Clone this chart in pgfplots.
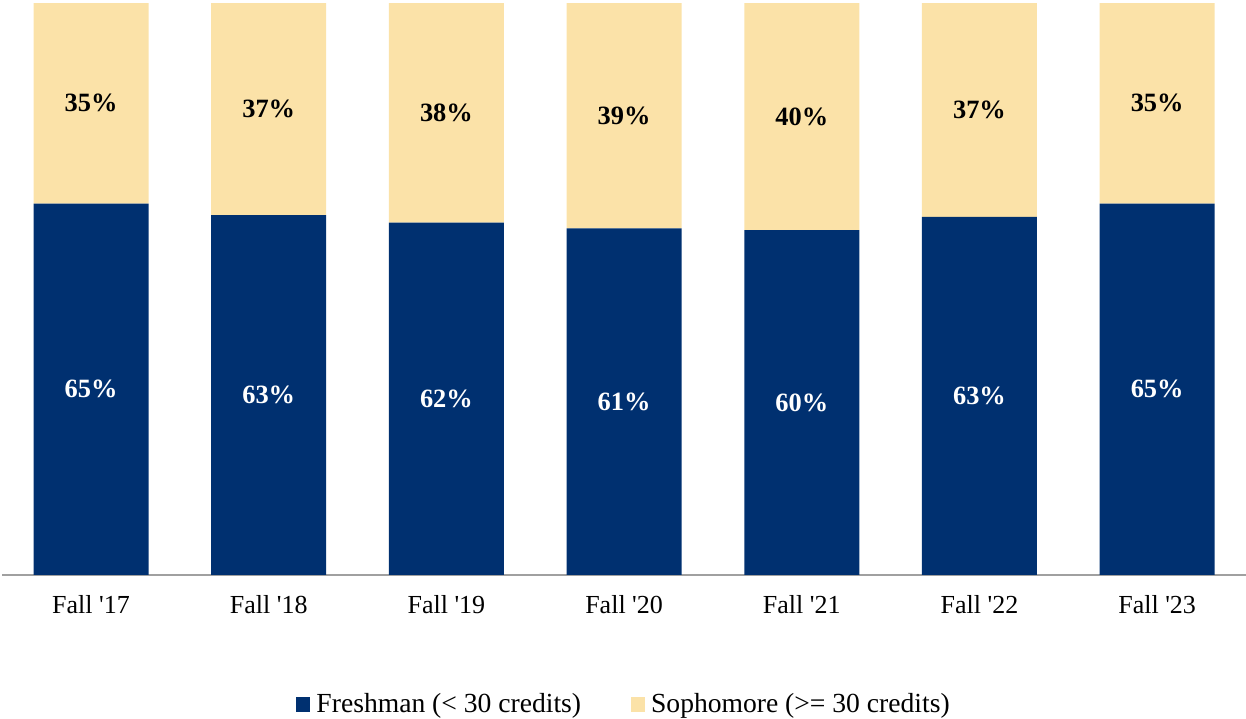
\documentclass[border=0pt]{standalone}
\usepackage{fontspec}
\setmainfont{Liberation Serif}
\usepackage{pgfplots}
\pgfplotsset{compat=1.18}
\usepackage{pgfplotstable}

\definecolor{navy}{HTML}{003070}
\definecolor{beige}{HTML}{FBE2A8}
\definecolor{axisgray}{HTML}{A0A0A0}

\pgfplotstableread{
x F S Flab Slab
0 64.9 35.1 65 35
1 62.9 37.1 63 37
2 61.6 38.4 62 38
3 60.6 39.4 61 39
4 60.3 39.7 60 40
5 62.6 37.4 63 37
6 64.9 35.1 65 35
}\data

\begin{document}
\begin{tikzpicture}
\useasboundingbox (-1.1pt,-72pt) rectangle (622pt,287.5pt);
\begin{axis}[
  at={(0,0)}, anchor=south west,
  scale only axis, width=622pt, height=286pt,
  ybar stacked, bar width=57.5pt,
  xmin=-0.5, xmax=6.5, ymin=0, ymax=100,
  axis y line=none,
  axis x line*=bottom,
  x axis line style={draw=axisgray, line width=0.6pt, -},
  xtick={0,1,2,3,4,5,6},
  xticklabels={Fall \textquotesingle17,Fall \textquotesingle18,Fall \textquotesingle19,Fall \textquotesingle20,Fall \textquotesingle21,Fall \textquotesingle22,Fall \textquotesingle23},
  major tick length=0pt,
  xticklabel style={font=\fontsize{13}{15}\selectfont, yshift=-6.5pt},
  legend style={at={(axis description cs:0.5,0)}, anchor=center, yshift=-65pt, xshift=0.5pt,
    draw=none, fill=none, legend columns=2,
    font=\fontsize{13.8}{16}\selectfont,
    /tikz/every odd column/.append style={column sep=1pt},
    /tikz/every even column/.append style={column sep=23pt},
    legend cell align=left},
  legend image code/.code={\fill[#1] (-1pt,-3.8pt) rectangle (6pt,4.2pt);},
]
\addplot[fill=navy, draw=none] table[x=x, y=F] {\data};
\addlegendentry{Freshman (< 30 credits)}
\addplot[fill=beige, draw=none] table[x=x, y=S] {\data};
\addlegendentry{Sophomore (>= 30 credits)}
\end{axis}
\begin{axis}[
  at={(0,0)}, anchor=south west,
  scale only axis, width=622pt, height=286pt,
  xmin=-0.5, xmax=6.5, ymin=0, ymax=100,
  hide axis,
  nodes near coords={\pgfplotspointmeta\%},
  point meta=explicit symbolic,
  nodes near coords align={center},
  every node near coord/.append style={anchor=center, font=\bfseries\fontsize{13.2}{15}\selectfont},
]
\addplot[draw=none, mark=none, nodes near coords style={text=white}]
  table[x=x, y expr=\thisrow{F}/2, meta=Flab] {\data};
\addplot[draw=none, mark=none, nodes near coords style={text=black}]
  table[x=x, y expr=\thisrow{F}+\thisrow{S}/2, meta=Slab] {\data};
\end{axis}
\end{tikzpicture}
\end{document}
